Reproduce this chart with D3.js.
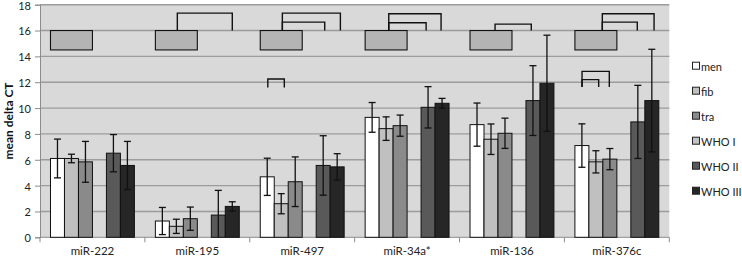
<!DOCTYPE html>
<html><head><meta charset="utf-8">
<script src="https://cdn.jsdelivr.net/npm/d3@7/dist/d3.min.js"></script>
<style>body{margin:0;background:#fff}svg{display:block}text{font-family:Lato,"Liberation Sans",sans-serif}</style>
</head><body><svg id="c" width="742" height="259"></svg>
<script>
const categories = ["miR-222","miR-195","miR-497","miR-34a*","miR-136","miR-376c"];
const seriesNames = ["men","fib","tra","WHO I","WHO II","WHO III"];
const men     = [6.10, 1.26, 4.68, 9.28, 8.72, 7.10];
const fib     = [6.10, 0.85, 2.60, 8.41, 7.59, 5.84];
const tra     = [5.84, 1.44, 4.30, 8.64, 8.05, 6.05];
const whoI    = [null, null, null, null, null, null];
const whoII   = [6.51, 1.72, 5.56,10.06,10.58, 8.93];
const whoIII  = [5.56, 2.39, 5.45,10.37,11.92,10.58];
const menErr    = [1.50, 1.05, 1.44, 1.15, 1.67, 1.68];
const fibErr    = [0.33, 0.55, 0.78, 0.91, 1.18, 0.86];
const traErr    = [1.58, 0.90, 1.92, 0.82, 1.17, 0.82];
const whoIErr   = [null, null, null, null, null, null];
const whoIIErr  = [1.44, 1.91, 2.30, 1.60, 2.70, 2.83];
const whoIIIErr = [1.86, 0.36, 1.02, 0.38, 3.72, 3.97];
const yTicks = [0,2,4,6,8,10,12,14,16,18];
// annotation boxes (value range) per category
const boxLow  = [14.5,14.5,14.5,14.5,14.5,14.5];
const boxHigh = [16,16,16,16,16,16];
// significance brackets: category, from slot, to slot, top value, leg-end value
const bracketCat  = ["miR-195","miR-497","miR-497","miR-497","miR-34a*","miR-34a*","miR-136","miR-376c","miR-376c","miR-376c","miR-376c"];
const bracketFrom = [1.07, 1.08, 1.08, 0.04, 1.19, 1.19, 1.29, 1.46, 1.46, 0.01, 0.01];
const bracketTo   = [5.0, 5.23, 4.11, 1.22, 4.93, 3.86, 3.88, 5.16, 3.96, 1.96, 1.2];
const bracketTop  = [17.35,17.35,16.65,12.25,17.3,16.6,16.5,17.3,16.65,12.84,12.2];
const bracketBase = [16,16,16,11.6,16,16,16,16,16,11.63,11.63];

const colors = ["#ffffff","#c0c0c0","#8a8a8a","#c4c4c4","#595959","#262626"];
const values = [men,fib,tra,whoI,whoII,whoIII];
const errs = [menErr,fibErr,traErr,whoIErr,whoIIErr,whoIIIErr];

const svg = d3.select("#c");
const L = 40, R = 669.3, T = 4.7, B = 237.3;
const x = d3.scaleBand().domain(categories).range([L,R]).padding(0);
const xs = d3.scaleBand().domain(d3.range(6)).range([0,x.bandwidth()]).paddingInner(0).paddingOuter(0.75);
const y = d3.scaleLinear().domain([0,18]).range([B,T]);

svg.append("rect").attr("x",L).attr("y",T).attr("width",R-L).attr("height",B-T).attr("fill","#d9d9d9");
svg.append("g").selectAll("line").data(yTicks.filter(d=>d>0)).join("line")
  .attr("x1",L).attr("x2",R).attr("y1",d=>y(d)).attr("y2",d=>y(d))
  .attr("stroke","#9c9c9c").attr("stroke-width",1.4);

// axes
const ya = svg.append("g").attr("transform",`translate(${L},0)`)
  .call(d3.axisLeft(y).tickValues(yTicks).tickSize(5).tickPadding(4));
ya.select(".domain").attr("stroke","#8c8c8c");
ya.selectAll(".tick line").attr("stroke","#8c8c8c");
ya.selectAll("text").attr("font-size",11).attr("dy","0.4em").attr("fill","#222").style("font-family","Lato");

const xa = svg.append("g").attr("transform",`translate(0,${B})`);
xa.append("line").attr("x1",L).attr("x2",R).attr("stroke","#8c8c8c");
xa.selectAll("line.t").data(d3.range(categories.length+1)).join("line").attr("class","t")
  .attr("x1",i=>L+i*x.bandwidth()).attr("x2",i=>L+i*x.bandwidth()).attr("y1",0).attr("y2",5).attr("stroke","#8c8c8c");
xa.selectAll("text").data(categories).join("text")
  .attr("x",d=>x(d)+x.bandwidth()/2).attr("y",18).attr("text-anchor","middle")
  .attr("font-size",11.5).attr("fill","#222").text(d=>d);

svg.append("text").attr("transform",`translate(13,${(T+B)/2}) rotate(-90)`)
  .attr("text-anchor","middle").attr("font-size",12).attr("font-weight","bold").attr("fill","#111").text("mean delta CT");

// bars
const gBars = svg.append("g");
categories.forEach((c,ci)=>{
  values.forEach((arr,si)=>{
    const v = arr[ci]; if (v==null) return;
    const bx = x(c)+xs(si);
    gBars.append("rect").attr("x",bx).attr("y",y(v)).attr("width",xs.bandwidth()).attr("height",y(0)-y(v))
      .attr("fill",colors[si]).attr("stroke","#111").attr("stroke-width",1);
  });
});
// error bars
const gErr = svg.append("g").attr("stroke","#111").attr("stroke-width",1.3);
categories.forEach((c,ci)=>{
  values.forEach((arr,si)=>{
    const v = arr[ci]; if (v==null) return;
    const e = errs[si][ci];
    const cx = x(c)+xs(si)+xs.bandwidth()/2;
    const hi = v+e, lo = Math.max(0,v-e);
    gErr.append("line").attr("x1",cx).attr("x2",cx).attr("y1",y(hi)).attr("y2",y(lo));
    gErr.append("line").attr("x1",cx-3.5).attr("x2",cx+3.5).attr("y1",y(hi)).attr("y2",y(hi));
    if (v-e>0) gErr.append("line").attr("x1",cx-3.5).attr("x2",cx+3.5).attr("y1",y(lo)).attr("y2",y(lo));
  });
});
// annotation boxes
categories.forEach((c,ci)=>{
  const x0 = x(c)+xs(0), x1 = x(c)+xs(2)+xs.bandwidth();
  svg.append("rect").attr("x",x0).attr("y",y(boxHigh[ci])).attr("width",x1-x0).attr("height",y(boxLow[ci])-y(boxHigh[ci]))
    .attr("fill","#b4b4b4").attr("stroke","#111").attr("stroke-width",1.1);
});
// brackets
const slotX = (c,s)=> x(c)+xs.step()*0.75+(s+0.5)*xs.step();
bracketCat.forEach((c,i)=>{
  const xa0 = slotX(c,bracketFrom[i]), xa1 = slotX(c,bracketTo[i]);
  svg.append("path").attr("d",`M${xa0},${y(bracketBase[i])}V${y(bracketTop[i])}H${xa1}V${y(bracketBase[i])}`)
    .attr("fill","none").attr("stroke","#111").attr("stroke-width",1.4);
});

// legend
const lg = svg.append("g");
seriesNames.forEach((n,i)=>{
  const ly = 66.7 + i*25;
  lg.append("rect").attr("x",692.5).attr("y",ly-4.5).attr("width",7).attr("height",7)
    .attr("fill",colors[i]).attr("stroke","#222").attr("stroke-width",1);
  lg.append("text").attr("x",701).attr("y",ly+4).attr("font-size",11).attr("fill","#222").text(n);
});
</script></body></html>
